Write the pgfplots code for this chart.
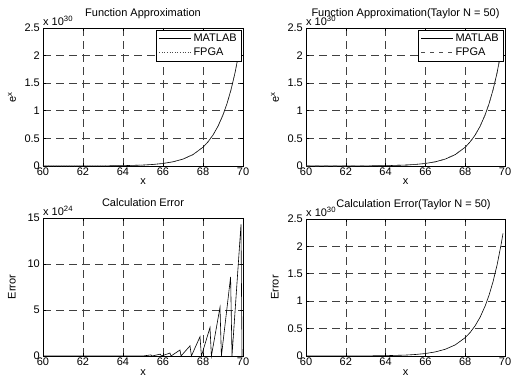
\documentclass[border=0pt]{standalone}
\usepackage{fontspec}
\setmainfont{Liberation Sans}
\usepackage{pgfplots}
\pgfplotsset{compat=1.18}

\pgfplotsset{
  mstyle/.style={
    scale only axis, width=200bp, height=138bp,
    xmin=60, xmax=70, xtick={60,62,...,70}, xticklabels={60,62,64,66,68,70},
    grid=major,
    major grid style={black!75, line width=0.6bp, dash pattern=on 8bp off 5bp},
    tick align=inside, major tick length=3bp,
    axis line style={line width=0.8bp},
    tick style={black, line width=0.6bp},
    xticklabel style={anchor=north, inner sep=0pt, yshift=-1.5bp},
    yticklabel style={anchor=east, inner sep=0pt, xshift=-3bp},
    xlabel={x},
    xlabel style={at={(axis description cs:0.5,0)}, anchor=base, yshift=-19bp, inner sep=0pt},
    ylabel style={at={(axis description cs:0,0.5)}, anchor=center, yshift=31bp, inner sep=0pt},
    title style={at={(axis description cs:0.5,1)}, anchor=base, yshift=6bp, inner sep=0pt},
    clip=false,
    legend style={at={(rel axis cs:0.995,0.985)}, anchor=north east, draw=black,
      line width=0.6bp, inner xsep=3bp, inner ysep=1.5bp, row sep=1bp,
      cells={anchor=west}, fill=white},
    legend image code/.code={\draw[#1] (0bp,0bp) -- (32bp,0bp);},
  },
  eystyle/.style={ymin=0, ymax=2.5, ytick={0,0.5,...,2.5}, yticklabels={0,0.5,1,1.5,2,2.5}},
}

\begin{document}
\fontsize{11bp}{13bp}\selectfont
\begin{tikzpicture}
\path[use as bounding box] (0,0) rectangle (516bp,378bp);

% ---------- top left
\begin{axis}[mstyle, eystyle, at={(43bp,212bp)}, anchor=south west,
  title={Function Approximation}, ylabel={e\textsuperscript{x}}]
\addplot[black, line width=0.6bp] coordinates {
 (60,0.000114) (61,0.00031) (62,0.00084) (63,0.00229) (64,0.00624) (65,0.0170)
 (65.5,0.0280) (66,0.0461) (66.5,0.0760) (67,0.1253) (67.5,0.2065) (68,0.3405)
 (68.25,0.4372) (68.5,0.5614) (68.75,0.7208) (69,0.9255) (69.2,1.1304)
 (69.4,1.3807) (69.6,1.6864) (69.8,2.0597) (69.9,2.2764)};
\addlegendentry{MATLAB}
\addplot[black!70, line width=0.6bp, dotted] coordinates {
 (60,0.000114) (61,0.00031) (62,0.00084) (63,0.00229) (64,0.00624) (65,0.0170)
 (65.5,0.0280) (66,0.0461) (66.5,0.0760) (67,0.1253) (67.5,0.2065) (68,0.3405)
 (68.25,0.4372) (68.5,0.5614) (68.75,0.7208) (69,0.9255) (69.2,1.1304)
 (69.4,1.3807) (69.6,1.6864) (69.8,2.0597) (69.9,2.2764)};
\addlegendentry{FPGA}
\node[anchor=south west, inner sep=0pt] at (rel axis cs:0,1) [yshift=2bp] {x 10\textsuperscript{30}};
\end{axis}

% ---------- top right
\begin{axis}[mstyle, eystyle, width=199bp, at={(306bp,212bp)}, anchor=south west,
  title={Function Approximation(Taylor N = 50)}, ylabel={e\textsuperscript{x}}]
\addplot[black, line width=0.6bp] coordinates {
 (60,0.000114) (61,0.00031) (62,0.00084) (63,0.00229) (64,0.00624) (65,0.0170)
 (65.5,0.0280) (66,0.0461) (66.5,0.0760) (67,0.1253) (67.5,0.2065) (68,0.3405)
 (68.25,0.4372) (68.5,0.5614) (68.75,0.7208) (69,0.9255) (69.2,1.1304)
 (69.4,1.3807) (69.6,1.6864) (69.8,2.0597) (69.9,2.2764)};
\addlegendentry{MATLAB}
\addplot[black!70, line width=0.6bp, dash pattern=on 4bp off 5bp] coordinates {
 (60,0.000114) (61,0.00031) (62,0.00084) (63,0.00229) (64,0.00624) (65,0.0170)
 (65.5,0.0280) (66,0.0461) (66.5,0.0760) (67,0.1253) (67.5,0.2065) (68,0.3405)
 (68.25,0.4372) (68.5,0.5614) (68.75,0.7208) (69,0.9255) (69.2,1.1304)
 (69.4,1.3807) (69.6,1.6864) (69.8,2.0597) (69.9,2.2764)};
\addlegendentry{FPGA}
\node[anchor=south west, inner sep=0pt] at (rel axis cs:0,1) [yshift=2bp] {x 10\textsuperscript{30}};
\end{axis}

% ---------- bottom left
\begin{axis}[mstyle, at={(43bp,22bp)}, anchor=south west,
  ymin=0, ymax=15, ytick={0,5,10,15}, yticklabels={0,5,10,15},
  title={Calculation Error}, ylabel={Error}]
\addplot[black, line width=0.6bp] coordinates {
 (60,0) (65.0,0) (65.4,0.12) (65.45,0) (65.87,0.2) (65.92,0) (66.35,0.32) (66.4,0)
 (66.85,0.65) (66.9,0) (67.35,1.1) (67.42,0) (67.85,2.1) (67.92,0)
 (68.35,3.1) (68.42,0) (68.85,5.3) (68.92,0) (69.38,8.6) (69.45,0)
 (69.9,14.3) (69.95,0)};
\node[anchor=south west, inner sep=0pt] at (rel axis cs:0,1) [yshift=2bp] {x 10\textsuperscript{24}};
\end{axis}

% ---------- bottom right
\begin{axis}[mstyle, eystyle, width=199bp, height=137bp, at={(306bp,22bp)}, anchor=south west,
  title={Calculation Error(Taylor N = 50)}, title style={xshift=8bp}, ylabel={Error}]
\addplot[black, line width=0.6bp] coordinates {
 (60,0.000112) (61,0.00030) (62,0.00083) (63,0.00225) (64,0.00612) (65,0.0167)
 (65.5,0.0275) (66,0.0453) (66.5,0.0747) (67,0.1232) (67.5,0.2031) (68,0.3349)
 (68.25,0.4300) (68.5,0.5521) (68.75,0.7089) (69,0.9102) (69.2,1.1117)
 (69.4,1.3579) (69.6,1.6585) (69.8,2.0256) (69.9,2.2387)};
\node[anchor=south west, inner sep=0pt] at (rel axis cs:0,1) [yshift=2bp] {x 10\textsuperscript{30}};
\end{axis}
\end{tikzpicture}
\end{document}
